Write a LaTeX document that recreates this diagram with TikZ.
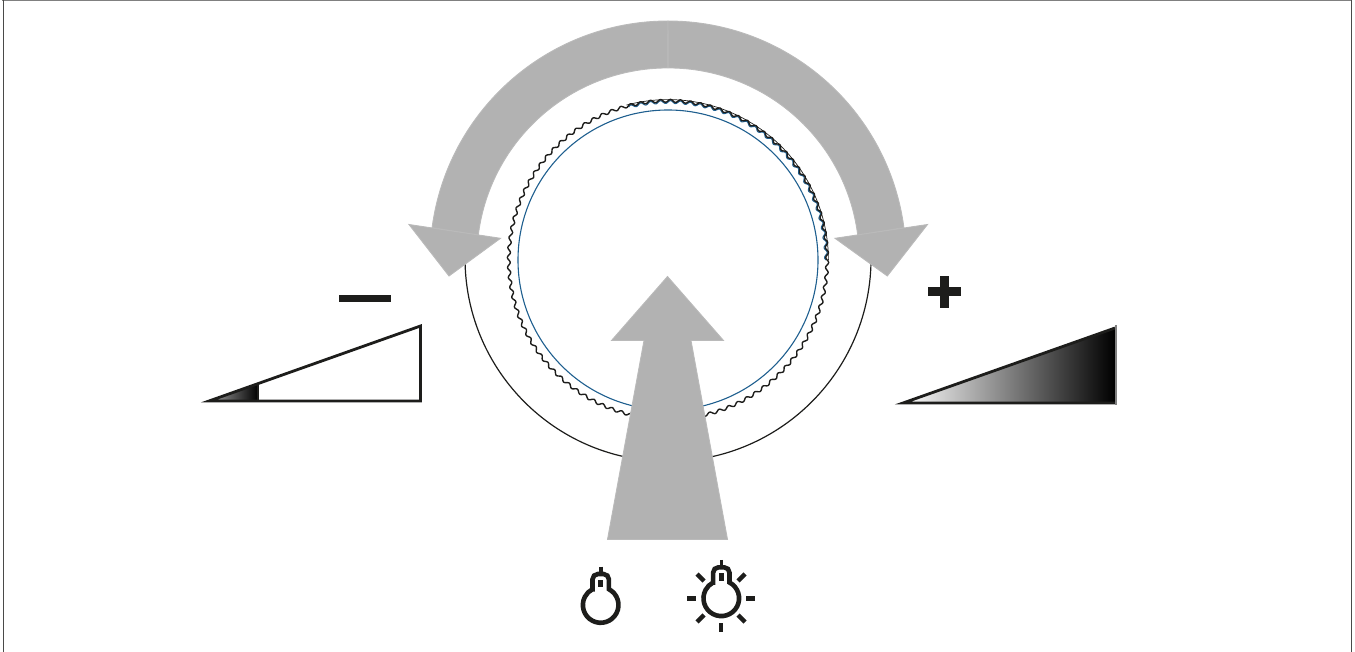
\documentclass[tikz,border=0pt]{standalone}
\definecolor{ink}{HTML}{1D1D1B}
\definecolor{arrowgrey}{HTML}{B2B2B2}
\definecolor{arrowedge}{HTML}{BABABA}
\definecolor{ringblue}{HTML}{1F5F8F}
\tikzset{
  x=1pt,y=-1pt,
  greyarrow/.style={fill=arrowgrey,draw=arrowedge,line width=0.9pt,line join=miter},
  wedge/.style={draw=ink,line width=2.8pt,line join=miter,miter limit=20},
  bulbline/.style={draw=ink,line width=4.6pt},
  ray/.style={draw=ink,line width=4.4pt},
  bulbicon/.pic={
    \draw[bulbline] (-8.2,-15.8) -- (-8.2,-25.6) arc[start angle=180,end angle=270,radius=5.4]
      -- (2.8,-31) arc[start angle=270,end angle=360,radius=5.4] -- (8.2,-15.8)
      arc[start angle=-62.5,end angle=242.5,radius=17.8] -- cycle;
    \draw[draw=ink,line width=3.6pt] (0,-38.5) -- (0,-32);
    \draw[draw=ink,line width=5pt] (0,-25) -- (0,-17.7);
  }
}
\begin{document}
\begin{tikzpicture}
\useasboundingbox (0,0) rectangle (1355,652);
% frame
\draw[draw=gray,line width=1pt] (2,0.8) -- (1352,0.8);
\draw[draw=ink!80,line width=1pt] (3,0.5) -- (3,652);
\draw[draw=ink!80,line width=1pt] (1351,0.5) -- (1351,652);
% rings
\draw[draw=ink,line width=1.2pt] (871,262) arc[start angle=1,end angle=179,radius=203];
\draw[draw=ringblue,line width=1.1pt] (668,260) circle[radius=150];
\draw[draw=ringblue,line width=1.1pt,domain=71:100,samples=700,variable=\u]
  plot ({668+(158+1.4*sin(360*frac(\u)))*cos(3.6*\u)},{260+(158+1.4*sin(360*frac(\u)))*sin(3.6*\u)});
\draw[draw=ink,line width=1.4pt,domain=0:100,samples=2401,variable=\u,line join=round]
  plot ({668+(159.2+1.4*sin(360*frac(\u)))*cos(3.6*\u)},{260+(159.2+1.4*sin(360*frac(\u)))*sin(3.6*\u)}) -- cycle;
\draw[draw=ink,line width=0.7pt] (828.4,260) arc[start angle=0,end angle=-105,radius=160.4];
% rotary arrows
\path[greyarrow] (668,21) arc[start angle=-90,end angle=-172.44,radius=238]
  -- (478.3,235) arc[start angle=-172.8,end angle=-90,radius=191] -- cycle;
\path[greyarrow] (668,21) arc[start angle=-90,end angle=-7.56,radius=238]
  -- (857.7,235) arc[start angle=-7.2,end angle=-90,radius=191] -- cycle;
\path[greyarrow] (409,224.5) -- (500.5,238.3) -- (449,276) -- cycle;
\path[greyarrow] (927.5,224.5) -- (835,238.3) -- (887.3,276) -- cycle;
% push arrow
\path[greyarrow] (607.5,539.5) -- (644,340.5) -- (611.5,340.5) -- (667.5,276.5) -- (723.5,340.5) -- (691,340.5) -- (727.5,539.5) -- cycle;
% minus and plus
\fill[ink] (339,295) rectangle (391,302);
\fill[ink] (928,287.5) rectangle (960.5,296.5);
\fill[ink] (940,276) rectangle (949,308);
% left wedge
\shade[left color=gray!70,right color=black] (209,401) -- (258,383.6) -- (258,401) -- cycle;
\draw[wedge] (209,401) -- (420.5,326) -- (420.5,401) -- cycle;
\draw[draw=ink,line width=2pt] (257.5,383) -- (257.5,401);
% right wedge
\shade[left color=white,right color=black] (903,403) -- (1115,328) -- (1115,403) -- cycle;
\draw[wedge] (1115,403) -- (903,403) -- (1115,328);
\draw[draw=gray,line width=1.2pt] (1116,325) -- (1116,404.5);
% bulbs
\pic at (600.7,605) {bulbicon};
\pic at (721.3,598.3) {bulbicon};
\draw[ray] (687,598.3) -- (696,598.3);
\draw[ray] (746,598.3) -- (755,598.3);
\draw[ray] (721,623) -- (721,632);
\draw[ray] (697,574) -- (704,581);
\draw[ray] (745,574) -- (738,581);
\draw[ray] (697,622) -- (704,615);
\draw[ray] (745,622) -- (738,615);
\end{tikzpicture}
\end{document}
